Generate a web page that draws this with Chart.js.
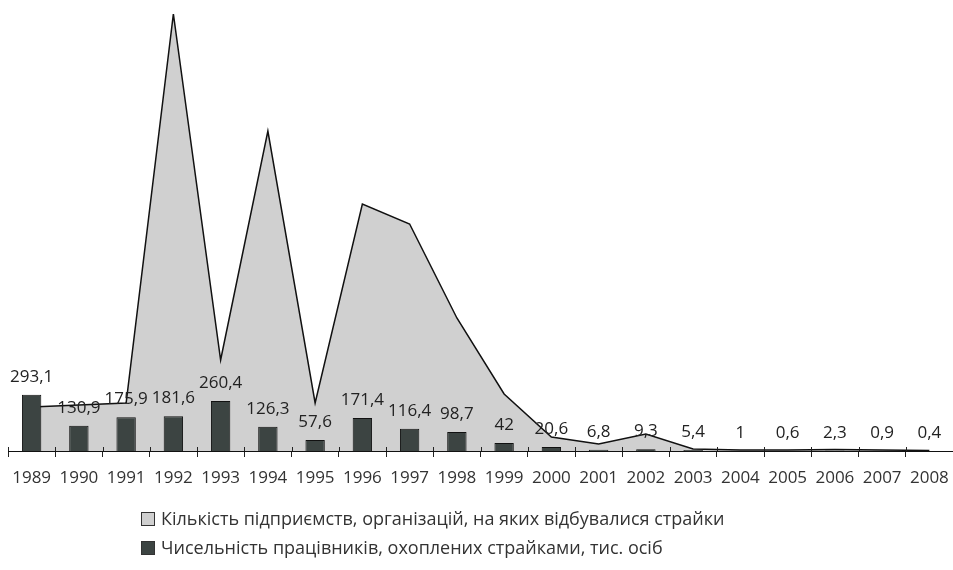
<!DOCTYPE html>
<html>
<head>
<meta charset="utf-8">
<script src="https://cdn.jsdelivr.net/npm/chart.js@4"></script>
<style>
	html, body { margin: 0; padding: 0; background: #fff; }
	#wrap { width: 953px; height: 570px; }
</style>
</head>
<body>
<div id="wrap"><canvas id="strikes-chart"></canvas></div>
<script>
const years = ["1989", "1990", "1991", "1992", "1993", "1994", "1995", "1996", "1997", "1998",
	"1999", "2000", "2001", "2002", "2003", "2004", "2005", "2006", "2007", "2008"];
// кількість підприємств (оцінено з рисунка)
const enterprises = [264, 276, 288, 2622, 546, 1920, 288, 1482, 1362, 798,
	342, 84, 42, 102, 12, 6, 6, 9, 6, 3];
// тис. осіб
const workers = [293.1, 130.9, 175.9, 181.6, 260.4, 126.3, 57.6, 171.4, 116.4, 98.7,
	42, 20.6, 6.8, 9.3, 5.4, 1, 0.6, 2.3, 0.9, 0.4];
const legendLabels = [
	"Кількість підприємств, організацій, на яких відбувалися страйки",
	"Чисельність працівників, охоплених страйками, тис. осіб",
];

const FONT = "'Open Sans', 'DejaVu Sans', sans-serif";
const areaColor = "#d0d0d0";
const barColor = "#3c4442";

const barLabels = {
	id: "barLabels",
	afterDatasetsDraw(chart) {
		const ctx = chart.ctx;
		const meta = chart.getDatasetMeta(1);
		ctx.save();
		ctx.font = "17px " + FONT;
		ctx.fillStyle = "#222";
		ctx.textAlign = "center";
		ctx.textBaseline = "alphabetic";
		meta.data.forEach((bar, i) => {
			ctx.fillText(String(workers[i]).replace(".", ","), bar.x, bar.y - 13);
		});
		ctx.restore();
	},
};

// tick marks cross the axis line a little
const axisTicks = {
	id: "axisTicks",
	afterDatasetsDraw(chart) {
		const x = chart.scales.x;
		const ctx = chart.ctx;
		const half = (x.getPixelForValue(1) - x.getPixelForValue(0)) / 2;
		ctx.save();
		ctx.strokeStyle = "#222";
		ctx.lineWidth = 1;
		for (let i = 0; i <= years.length; i++) {
			const px = Math.round(x.getPixelForValue(0) - half + i * half * 2) + 0.5;
			ctx.beginPath();
			ctx.moveTo(px, x.top - 4);
			ctx.lineTo(px, x.top);
			ctx.stroke();
		}
		ctx.restore();
	},
};

const legendRows = {
	id: "legendRows",
	afterDraw(chart) {
		const ctx = chart.ctx;
		ctx.save();
		ctx.font = "18px " + FONT;
		ctx.textBaseline = "middle";
		legendLabels.forEach((text, i) => {
			const y = 519 + i * 29;
			ctx.fillStyle = chart.data.datasets[i].backgroundColor;
			ctx.fillRect(141, y - 7, 14, 14);
			ctx.strokeStyle = "#333";
			ctx.lineWidth = 1;
			ctx.strokeRect(141.5, y - 6.5, 13, 13);
			ctx.fillStyle = "#333";
			ctx.fillText(text, 161, y + 1);
		});
		ctx.restore();
	},
};

const strikesChart = new Chart(document.getElementById("strikes-chart"), {
	type: "bar",
	data: {
		labels: years,
		datasets: [
			{
				type: "line",
				label: legendLabels[0],
				data: enterprises,
				yAxisID: "y2",
				fill: "origin",
				backgroundColor: areaColor,
				borderColor: "#111",
				borderWidth: 1.5,
				pointRadius: 0,
				tension: 0,
				order: 2,
			},
			{
				label: legendLabels[1],
				data: workers,
				yAxisID: "y",
				backgroundColor: barColor,
				borderColor: "#111",
				borderWidth: 1,
				categoryPercentage: 1,
				barPercentage: 0.41,
				order: 1,
			},
		],
	},
	options: {
		responsive: true,
		maintainAspectRatio: false,
		animation: false,
		layout: { padding: { left: 8, right: 0, top: 14, bottom: 0 } },
		scales: {
			x: {
				offset: true,
				border: { display: true, color: "#111", width: 1 },
				grid: {
					display: true,
					drawOnChartArea: false,
					drawTicks: true,
					tickLength: 6,
					color: "#222",
					offset: true,
				},
				ticks: {
					color: "#333",
					padding: 11,
					maxRotation: 0,
					autoSkip: false,
					font: { family: FONT, size: 17 },
				},
				afterFit(scale) {
					scale.height = 119;
					scale.paddingLeft = 0;
					scale.paddingRight = 0;
				},
			},
			y: { display: false, min: 0, max: 2276 },
			y2: { display: false, min: 0, max: 2622 },
		},
		plugins: {
			legend: { display: false },
			tooltip: { enabled: false },
		},
	},
	plugins: [barLabels, axisTicks, legendRows],
});
</script>
</body>
</html>
